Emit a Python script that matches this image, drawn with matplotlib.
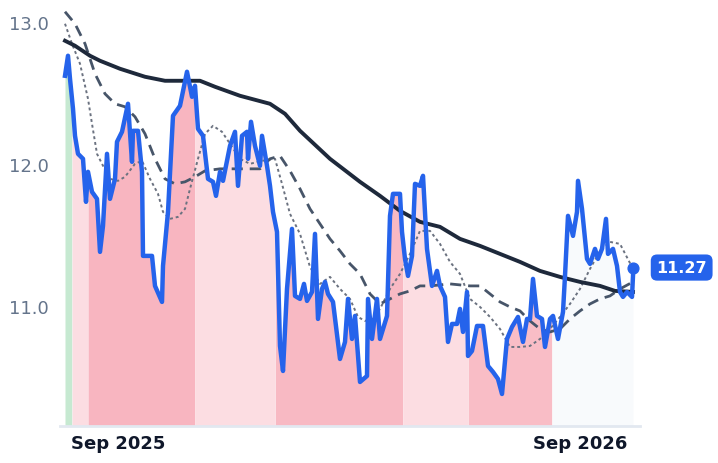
import matplotlib
matplotlib.use("Agg")
import matplotlib.pyplot as plt
import numpy as np
import datetime as dt

# ---- data (x as day offsets from 2025-09-01, y values) ----
px_blue = [65,68,70,73,75,78,83,86,88,92,97,100,103,107,110,115,117,122,128,132,133,138,142,143,147,152,155,162,163,168,173,180,187,192,195,198,203,208,213,216,220,223,230,235,238,242,247,248,251,255,260,262,267,270,273,277,280,283,287,292,295,300,304,307,312,315,318,322,325,328,333,340,345,348,352,355,360,367,368,372,377,380,387,390,393,400,402,405,408,412,415,420,423,427,432,437,440,445,448,452,457,460,463,467,468,472,477,483,488,493,498,502,507,512,518,523,527,530,533,537,542,545,550,553,558,563,565,568,573,577,578,582,587,590,595,598,602,606,608,613,617,620,623,627,632,633]
py_blue = [77,57,80,110,137,155,160,203,173,193,200,253,227,155,200,180,143,133,105,163,132,132,173,257,257,257,287,303,267,213,117,107,73,98,87,130,137,180,183,197,173,182,147,133,187,137,133,160,123,147,167,137,167,187,213,233,347,372,290,230,297,300,285,302,293,235,320,290,283,295,303,360,343,300,340,317,383,377,300,340,300,340,317,217,195,195,233,260,277,257,185,187,177,250,287,272,287,298,343,325,325,310,333,293,357,352,327,327,367,373,380,395,340,328,318,343,320,320,280,317,320,348,320,317,340,313,277,217,237,213,182,210,260,265,250,260,250,220,255,250,267,293,298,293,298,277]

px_ma_long = [65,75,90,100,120,145,165,185,200,215,240,270,285,300,330,360,380,400,420,440,460,480,500,520,540,560,580,600,615,633]
py_ma_long = [42,47,57,62,70,78,82,82,82,88,97,105,115,132,160,183,197,212,223,228,240,247,255,263,272,278,283,287,292,293]
px_ma_mid = [65,75,85,95,105,115,125,135,145,155,165,175,185,195,205,220,240,260,270,280,290,300,310,320,330,340,350,360,370,380,390,400,410,420,430,450,470,480,490,500,510,520,530,540,550,560,570,580,590,600,610,620,633]
py_ma_mid = [13,25,45,75,95,105,108,118,135,160,180,185,183,178,172,170,170,170,160,157,172,190,210,225,240,252,265,275,295,305,300,295,292,287,287,285,287,287,295,303,308,312,322,330,333,330,320,312,305,300,297,290,283]
px_ma_short = [65,72,80,88,92,97,102,110,118,125,135,142,150,158,163,170,178,185,190,198,205,213,222,230,240,250,262,275,282,290,300,310,320,330,340,350,358,365,372,380,390,400,410,420,430,440,450,460,470,480,490,500,510,520,530,540,550,560,570,580,590,600,610,620,633]
py_ma_short = [25,45,65,100,125,155,165,180,182,178,165,162,180,195,213,220,218,210,190,160,135,127,133,145,160,165,162,160,185,215,235,268,285,278,290,300,318,322,320,310,290,275,255,232,232,245,263,275,300,308,318,330,348,348,347,340,330,318,305,290,270,252,243,245,270]

band_edges_px = [65,72,88,195,275,403,468,552,633]
band_colors = ["#c6e9d1", "#fcdde2", "#f8b5c0", "#fcdde2", "#f8b9c3", "#fcdde2", "#f9bdc6", "#f8fafc"]
last_value = 11.27
tick_labels = ["Sep 2025", "Sep 2026"]

def d(px): return (np.asarray(px, float) - 118) / 1.266
def v(py): return 13 - (np.asarray(py, float) - 23) / 142

xb, yb = d(px_blue), v(py_blue)
base = dt.date(2025, 9, 1)
tick_days = [0, (dt.date(2026, 9, 1) - base).days]

fig = plt.figure(figsize=(7.18, 4.64), dpi=100)
ax = fig.add_axes([60/718, 37/464, 580/718, 427/464])
ymin = 13 - (427-23)/142
ax.set_ylim(ymin, 13.16)
ax.set_xlim(d(60), d(640))

edges = d(band_edges_px)
xf = np.linspace(xb[0], xb[-1], 2000)
yf = np.interp(xf, xb, yb)
for i, c in enumerate(band_colors):
    m = (xf >= edges[i]) & (xf <= edges[i+1])
    ax.fill_between(xf[m], ymin, yf[m], color=c, lw=0, zorder=1)

ax.plot(d(px_ma_short), v(py_ma_short), color="#6b7280", lw=1.4, ls=(0, (1.5, 1.5)), zorder=3)
ax.plot(d(px_ma_mid), v(py_ma_mid), color="#475569", lw=2, ls=(0, (4, 2.5)), zorder=3)
ax.plot(d(px_ma_long), v(py_ma_long), color="#1e293b", lw=2.8, zorder=4)
ax.plot(xb, yb, color="#2563eb", lw=3.2, zorder=5, solid_joinstyle="round")
ax.scatter([xb[-1]], [last_value], s=60, color="#2563eb", zorder=6)

ax.annotate(f"{last_value:.2f}", xy=(1.0, last_value), xycoords=("axes fraction", "data"),
            xytext=(30, 0), textcoords="offset points", ha="center", va="center",
            color="white", fontsize=11.5, fontweight="bold",
            bbox=dict(boxstyle="round,pad=0.35,rounding_size=0.4", fc="#2563eb", ec="none"))

ax.set_yticks([11.0, 12.0, 13.0])
ax.set_yticklabels(["11.0", "12.0", "13.0"])
ax.set_xticks(tick_days)
ax.set_xticklabels(tick_labels, fontweight="bold", color="#0f172a", fontsize=13)
ax.tick_params(axis="y", length=0, labelcolor="#64748b", labelsize=13, pad=8)
ax.tick_params(axis="x", length=0, pad=6)
for s in ["left", "right", "top"]:
    ax.spines[s].set_visible(False)
ax.spines["bottom"].set_color("#e2e8f0")
ax.spines["bottom"].set_linewidth(2)
ax.grid(False)
fig.savefig("out.png", dpi=100)
